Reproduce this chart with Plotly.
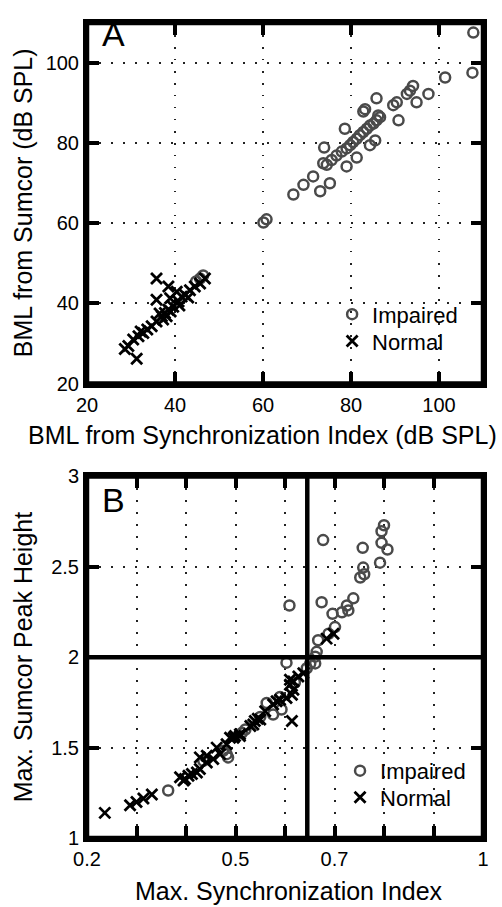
import plotly.graph_objects as go

# ---------------- Panel A data ----------------
a_imp_x = [107.8, 107.6, 101.4, 94.1, 93.4, 92.7, 97.6, 94.9, 90.4, 89.6, 85.8, 83.2, 82.8, 90.8,
           86.6, 85.8, 85.1, 78.6, 85.5, 84.3, 73.9, 81.3, 79.0, 71.4, 69.2, 66.9, 75.2, 73.0,
           60.1, 60.8, 74.5, 75.6, 76.7, 77.9, 79.0, 79.8, 80.5, 81.3, 82.0, 82.8, 83.6, 84.3,
           86.2, 73.7, 46.4, 45.7, 44.8]
a_imp_y = [107.6, 97.6, 96.4, 94.3, 93.1, 92.3, 92.3, 90.2, 90.2, 89.5, 91.2, 88.5, 87.9, 85.7,
           86.5, 85.7, 84.9, 83.6, 80.7, 79.5, 78.9, 76.4, 74.2, 71.7, 69.6, 67.2, 70.0, 68.0,
           60.2, 61.0, 74.6, 75.8, 76.9, 77.9, 78.7, 79.5, 80.3, 81.1, 82.0, 82.8, 83.6, 84.4,
           86.9, 75.0, 47.0, 46.2, 45.5]
a_nor_x = [35.8, 38.5, 35.8, 38.9, 28.6, 31.3, 29.4, 30.5, 31.7, 32.8, 33.7, 34.7, 35.8, 37.0,
           37.7, 38.5, 39.6, 40.8, 41.5, 42.3, 43.4, 44.5, 45.7, 46.8, 40.4, 38.1, 37.3, 32.2,
           36.5, 39.0, 41.0, 43.0]
a_nor_y = [46.2, 44.2, 40.9, 41.3, 28.6, 26.2, 29.4, 31.0, 31.8, 32.6, 33.5, 34.3, 35.5, 36.8,
           37.6, 38.4, 39.2, 40.5, 41.7, 42.1, 43.3, 44.2, 45.0, 46.2, 42.9, 36.8, 36.0, 33.0,
           37.5, 38.0, 39.5, 41.5]

# ---------------- Panel B data ----------------
b_imp_x = [0.677, 0.609, 0.757, 0.800, 0.795, 0.795, 0.807, 0.792, 0.758, 0.760, 0.752, 0.674,
           0.738, 0.725, 0.728, 0.715, 0.696, 0.701, 0.688, 0.667, 0.664, 0.661, 0.661, 0.651,
           0.603, 0.644, 0.563, 0.593, 0.576, 0.364, 0.435, 0.482, 0.485, 0.475, 0.513, 0.550,
           0.620, 0.590, 0.520]
b_imp_y = [2.648, 2.286, 2.605, 2.730, 2.697, 2.633, 2.596, 2.523, 2.496, 2.459, 2.441, 2.304,
           2.326, 2.286, 2.259, 2.249, 2.240, 2.167, 2.130, 2.094, 2.030, 2.003, 1.966, 1.966,
           1.970, 1.939, 1.747, 1.711, 1.683, 1.263, 1.427, 1.464, 1.446, 1.482, 1.582, 1.670,
           1.860, 1.780, 1.600]
b_nor_x = [0.698, 0.684, 0.637, 0.627, 0.617, 0.610, 0.610, 0.617, 0.614, 0.603, 0.590, 0.583,
           0.576, 0.560, 0.550, 0.539, 0.536, 0.614, 0.509, 0.496, 0.482, 0.462, 0.442, 0.428,
           0.236, 0.287, 0.300, 0.314, 0.331, 0.388, 0.398, 0.405, 0.412, 0.422, 0.428, 0.395,
           0.442, 0.455, 0.469, 0.489, 0.499, 0.509, 0.545, 0.530]
b_nor_y = [2.130, 2.103, 1.911, 1.893, 1.866, 1.848, 1.875, 1.820, 1.793, 1.774, 1.765, 1.756,
           1.738, 1.701, 1.656, 1.647, 1.628, 1.647, 1.564, 1.555, 1.519, 1.500, 1.455, 1.446,
           1.139, 1.181, 1.199, 1.218, 1.241, 1.336, 1.327, 1.345, 1.354, 1.363, 1.382, 1.318,
           1.418, 1.437, 1.464, 1.555, 1.564, 1.574, 1.660, 1.620]

a_ticks = [20, 40, 60, 80, 100]
b_xticks = [0.2, 0.3, 0.4, 0.5, 0.6, 0.7, 0.8, 0.9, 1.0]
b_xtext = ["0.2", "", "", "0.5", "", "0.7", "", "", "1"]
b_yticks = [1, 1.5, 2, 2.5, 3]
b_ytext = ["1", "1.5", "2", "2.5", "3"]
b_vline = 0.645
b_hline = 2.0

FONT = "Liberation Sans, Arial, Helvetica, sans-serif"
GRAY = "#4a4a4a"
TICKLEN = 12

fig = go.Figure()
circ = dict(symbol="circle-open", size=10, color=GRAY, line=dict(width=2.5, color=GRAY))
crs = dict(symbol="x-thin-open", size=11, color="black", line=dict(width=2.8, color="black"))

fig.add_trace(go.Scatter(x=a_imp_x, y=a_imp_y, mode="markers", name="Impaired", marker=circ,
                         xaxis="x", yaxis="y", legend="legend"))
fig.add_trace(go.Scatter(x=a_nor_x, y=a_nor_y, mode="markers", name="Normal", marker=crs,
                         xaxis="x", yaxis="y", legend="legend2"))
fig.add_trace(go.Scatter(x=b_imp_x, y=b_imp_y, mode="markers", name="Impaired", marker=circ,
                         xaxis="x2", yaxis="y2", legend="legend3"))
fig.add_trace(go.Scatter(x=b_nor_x, y=b_nor_y, mode="markers", name="Normal", marker=crs,
                         xaxis="x2", yaxis="y2", legend="legend4"))

ax_common = dict(showline=True, linewidth=4, linecolor="black", mirror="ticks",
                 ticks="inside", ticklen=TICKLEN, tickwidth=4, tickcolor="black",
                 showgrid=True, gridcolor="#222", gridwidth=1.5, griddash="1.5px,10.5px",
                 zeroline=False, tickfont=dict(size=20, color="black", family=FONT))

leg_common = dict(xanchor="left", yanchor="middle", bgcolor="rgba(0,0,0,0)",
                  font=dict(size=22, color="black", family=FONT))

fig.update_layout(
    width=502, height=907,
    margin=dict(l=87, r=19, t=13, b=69),
    paper_bgcolor="white", plot_bgcolor="white",
    font=dict(family=FONT, color="black"),
    xaxis=dict(domain=[0, 1], anchor="y", range=[20, 110], tickvals=a_ticks, **ax_common),
    yaxis=dict(domain=[0.5576, 1], anchor="x", range=[20, 110], tickvals=a_ticks, **ax_common),
    xaxis2=dict(domain=[0, 1], anchor="y2", range=[0.2, 1.0], tickvals=b_xticks,
                ticktext=b_xtext, **ax_common),
    yaxis2=dict(domain=[0, 0.4436], anchor="x2", range=[1, 3], tickvals=b_yticks,
                ticktext=b_ytext, **ax_common),
    legend=dict(x=0.619, y=0.6425, **leg_common),
    legend2=dict(x=0.619, y=0.6095, **leg_common),
    legend3=dict(x=0.639, y=0.0824, **leg_common),
    legend4=dict(x=0.639, y=0.0497, **leg_common),
    showlegend=True,
)

# frame drawn with the same style as the (visible) threshold lines
FR = dict(color="black", width=4.5)
for xr, yr in [("x", "y"), ("x2", "y2")]:
    for v in (0, 1):
        fig.add_shape(type="line", xref=f"{xr} domain", yref=f"{yr} domain", x0=v, x1=v,
                      y0=0, y1=1, line=FR, layer="above")
        fig.add_shape(type="line", xref=f"{xr} domain", yref=f"{yr} domain", x0=0, x1=1,
                      y0=v, y1=v, line=FR, layer="above")

fig.add_shape(type="line", xref="x2", yref="y2 domain", x0=b_vline, x1=b_vline, y0=0, y1=1,
              line=dict(color="black", width=4.5), layer="above")
fig.add_shape(type="line", xref="x2 domain", yref="y2", x0=0, x1=1, y0=b_hline, y1=b_hline,
              line=dict(color="black", width=4.5), layer="above")

ann_font = dict(size=25, color="black", family=FONT)
fig.add_annotation(text="BML from Synchronization Index (dB SPL)", xref="paper", yref="paper",
                   x=0.444, y=0.494, xanchor="center", yanchor="middle", showarrow=False, font=ann_font)
fig.add_annotation(text="Max. Synchronization Index", xref="paper", yref="paper",
                   x=0.51, y=-0.0655, xanchor="center", yanchor="middle", showarrow=False, font=ann_font)
fig.add_annotation(text="BML from Sumcor (dB SPL)", xref="paper", yref="paper",
                   x=-0.1616, y=0.7788, xanchor="center", yanchor="middle", textangle=-90,
                   showarrow=False, font=ann_font)
fig.add_annotation(text="Max. Sumcor Peak Height", xref="paper", yref="paper",
                   x=-0.1616, y=0.2218, xanchor="center", yanchor="middle", textangle=-90,
                   showarrow=False, font=ann_font)
fig.add_annotation(text="A", xref="paper", yref="paper", x=0.033, y=0.986,
                   xanchor="left", yanchor="middle", showarrow=False,
                   font=dict(size=34, color="black", family=FONT))
fig.add_annotation(text="B", xref="paper", yref="paper", x=0.033, y=0.4145,
                   xanchor="left", yanchor="middle", showarrow=False,
                   font=dict(size=34, color="black", family=FONT))

fig.write_html("out.html")
